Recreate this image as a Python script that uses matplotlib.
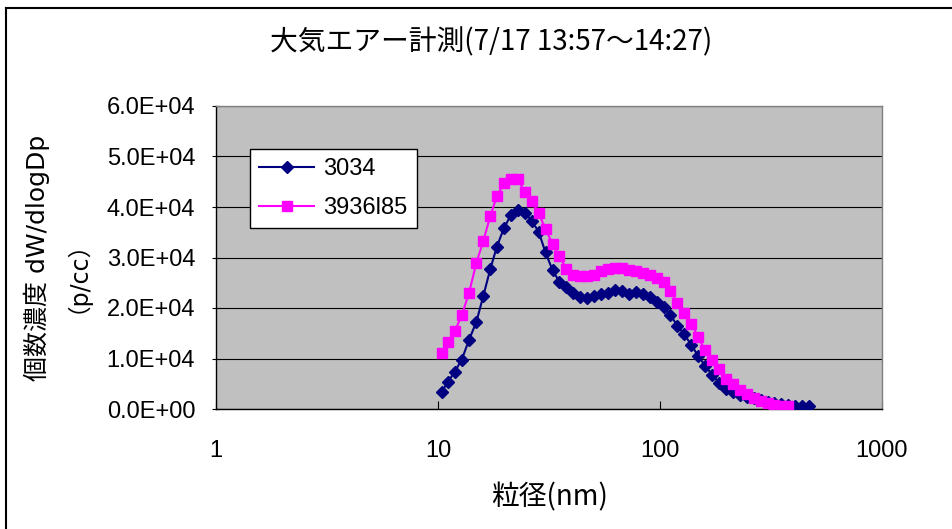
import matplotlib
matplotlib.use("Agg")
import matplotlib.pyplot as plt
from matplotlib.ticker import FuncFormatter, FixedLocator, NullLocator
from matplotlib.lines import Line2D

# 粒径チャンネル (nm)
diam = [10.4, 11.1, 11.9, 12.8, 13.8, 14.9, 16.0, 17.2, 18.4, 19.8,
        21.3, 22.9, 24.6, 26.4, 28.4, 30.5, 32.8, 35.2, 37.9, 40.7,
        43.7, 47.0, 50.5, 54.2, 58.3, 62.6, 67.3, 72.3, 77.7, 83.5,
        89.8, 96.5, 103.7, 111.4, 119.7, 128.6, 138.2, 148.6, 159.6, 171.5,
        184.3, 198.1, 212.9, 228.8, 245.8, 264.2, 283.9, 305.1, 327.8, 352.3,
        378.6, 406.8, 437.1, 469.8]

# 3034 (x1e4 p/cc)
val_3034 = [0.34, 0.54, 0.74, 0.98, 1.37, 1.73, 2.24, 2.77, 3.21, 3.58,
            3.84, 3.95, 3.89, 3.73, 3.51, 3.10, 2.75, 2.52, 2.42, 2.30,
            2.21, 2.19, 2.24, 2.28, 2.29, 2.36, 2.33, 2.28, 2.31, 2.27,
            2.21, 2.12, 2.02, 1.86, 1.65, 1.48, 1.27, 1.05, 0.86, 0.68,
            0.52, 0.40, 0.33, 0.28, 0.24, 0.21, 0.17, 0.14, 0.11, 0.09,
            0.07, 0.06, 0.06, 0.05]

# 3936l85 (x1e4 p/cc)
val_3936 = [1.10, 1.32, 1.54, 1.86, 2.30, 2.90, 3.33, 3.82, 4.21, 4.47,
            4.55, 4.55, 4.30, 4.12, 3.88, 3.56, 3.27, 3.02, 2.78, 2.66,
            2.63, 2.63, 2.66, 2.74, 2.78, 2.79, 2.79, 2.76, 2.74, 2.69,
            2.66, 2.60, 2.51, 2.33, 2.10, 1.91, 1.69, 1.43, 1.16, 0.97,
            0.79, 0.60, 0.49, 0.38, 0.30, 0.22, 0.16, 0.11, 0.08, 0.06,
            0.06]

x_ticks = [1, 10, 100, 1000]
y_ticks = [0, 1e4, 2e4, 3e4, 4e4, 5e4, 6e4]

jp = ['Noto Sans CJK JP', 'DejaVu Sans']
mix = ['DejaVu Sans', 'Noto Sans CJK JP']
num = ['Liberation Sans', 'DejaVu Sans']

W, H = 952, 529
fig = plt.figure(figsize=(W / 100, H / 100), dpi=100)
ax = fig.add_axes([216 / W, 1 - 409 / H, (882 - 216) / W, (409 - 106) / H])
ax.set_facecolor('#C0C0C0')

ax.plot(diam, [v * 1e4 for v in val_3034], color='#000080', lw=1.5,
        marker='D', markersize=6.3, label='3034', zorder=3)
ax.plot(diam[:len(val_3936)], [v * 1e4 for v in val_3936], color='#FF00FF', lw=1.5,
        marker='s', markersize=7.0, label='3936l85', zorder=4)

ax.set_xscale('log')
ax.set_xlim(1, 1000)
ax.set_ylim(0, 6e4)
ax.xaxis.set_major_locator(FixedLocator(x_ticks))
ax.xaxis.set_minor_locator(NullLocator())
ax.xaxis.set_major_formatter(FuncFormatter(lambda v, p: '%d' % v))
ax.yaxis.set_major_locator(FixedLocator(y_ticks))
ax.yaxis.set_major_formatter(FuncFormatter(lambda v, p: '%.1E' % v))
ax.grid(axis='y', color='black', lw=0.8)
ax.set_axisbelow(True)

ax.tick_params(axis='x', direction='in', length=6, width=0.8, pad=22,
               labelsize=17, top=False)
ax.tick_params(axis='y', direction='inout', length=6, width=0.8, pad=12,
               labelsize=17, right=False)
for lab in ax.get_xticklabels() + ax.get_yticklabels():
    lab.set_family(num)

for s in ['top', 'right']:
    ax.spines[s].set_color('#808080')
for s in ['left', 'bottom']:
    ax.spines[s].set_color('black')
for s in ax.spines.values():
    s.set_linewidth(1.0)

leg = ax.legend(loc='upper left', bbox_to_anchor=(250 / W, 1 - 149 / H),
                bbox_transform=fig.transFigure, prop={'family': num, 'size': 17},
                frameon=True, fancybox=False, framealpha=1, edgecolor='black',
                handlelength=2.33, handletextpad=0.38, borderpad=0.4,
                labelspacing=0.7, borderaxespad=0)
leg.get_frame().set_linewidth(1.0)

fig.text(491 / W, 1 - 42 / H, '大気エアー計測(7/17 13:57～14:27)',
         family=jp, fontsize=20, ha='center', va='center')
fig.text(549 / W, 1 - 497 / H, '粒径(nm)', family=jp, fontsize=20,
         ha='center', va='center')
fig.text(37 / W, 1 - 258 / H, '個数濃度 dW/dlogDp', family=mix,
         fontsize=18, rotation=90, ha='center', va='center')
fig.text(65 / W, 1 - 265 / H, '（p/cc）', family=mix, fontsize=17,
         rotation=90, ha='center', va='center')

# 外枠
fig.add_artist(Line2D([6 / W, 6 / W], [-0.01, 1 - 8 / H], color='black', lw=1.5))
fig.add_artist(Line2D([6 / W, 1.01], [1 - 8 / H, 1 - 8 / H], color='black', lw=1.5))

fig.savefig('out.png', dpi=100)
